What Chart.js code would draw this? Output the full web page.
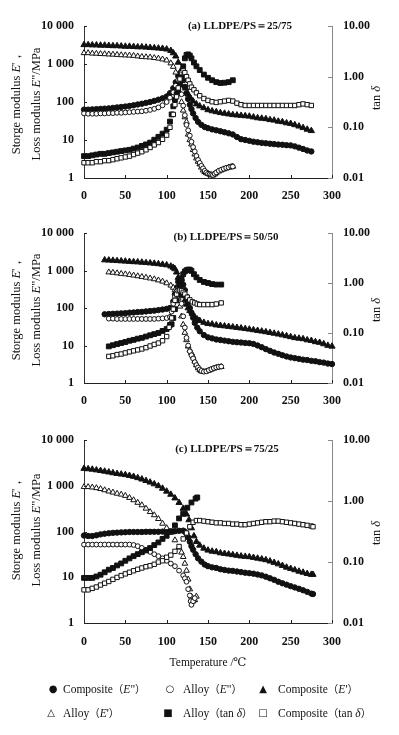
<!DOCTYPE html>
<html>
<head>
<meta charset="utf-8">
<script src="https://cdn.jsdelivr.net/npm/chart.js@4.4.0/dist/chart.umd.min.js"></script>
<style>
  body { margin: 0; background: #fff; width: 399px; height: 735px; position: relative; overflow: hidden;
         font-family: "Liberation Serif", "DejaVu Serif", serif; color: #111; }
  canvas { position: absolute; left: 0; }
  .yt { position: absolute; white-space: nowrap; font-size: 12.5px; transform: translate(-50%, -50%) rotate(-90deg); }
  .xt { position: absolute; white-space: nowrap; font-size: 11.5px; transform: translate(-50%, -50%); }
  .lg { position: absolute; white-space: nowrap; font-size: 11.5px; transform: translateY(-50%); }
  .mk { position: absolute; font-family: "DejaVu Sans", sans-serif; font-size: 10px; transform: translate(-50%, -50%); }
  .cj { font-family: "Noto Sans CJK SC", sans-serif; font-size: 10.5px; }
</style>
</head>
<body>
<canvas id="chartA" width="399" height="212" style="top:0"></canvas>
<canvas id="chartB" width="399" height="210" style="top:212px"></canvas>
<canvas id="chartC" width="399" height="240" style="top:422px"></canvas>

<div class="yt" style="left:16px;top:102px">Storge modulus <i>E</i>'，</div>
<div class="yt" style="left:36px;top:104px">Loss modulus <i>E</i>"/MPa</div>
<div class="yt" style="left:376px;top:98px">tan <i>δ</i></div>
<div class="yt" style="left:16px;top:308px">Storge modulus <i>E</i>'，</div>
<div class="yt" style="left:36px;top:310px">Loss modulus <i>E</i>"/MPa</div>
<div class="yt" style="left:376px;top:310px">tan <i>δ</i></div>
<div class="yt" style="left:16px;top:528px">Storge modulus <i>E</i>'，</div>
<div class="yt" style="left:36px;top:530px">Loss modulus <i>E</i>"/MPa</div>
<div class="yt" style="left:376px;top:533px">tan <i>δ</i></div>
<div class="xt" style="left:208px;top:662px">Temperature /℃</div>

<span class="mk" style="left:53px;top:688px">●</span><span class="lg" style="left:63px;top:688px">Composite<span class="cj">（</span><i>E</i>"<span class="cj">）</span></span>
<span class="mk" style="left:170px;top:688px">○</span><span class="lg" style="left:183px;top:688px">Alloy<span class="cj">（</span><i>E</i>"<span class="cj">）</span></span>
<span class="mk" style="left:263px;top:688px">▲</span><span class="lg" style="left:278px;top:688px">Composite<span class="cj">（</span><i>E</i>'<span class="cj">）</span></span>
<span class="mk" style="left:51px;top:712px">△</span><span class="lg" style="left:63px;top:712px">Alloy<span class="cj">（</span><i>E</i>'<span class="cj">）</span></span>
<span class="mk" style="left:168px;top:712px">■</span><span class="lg" style="left:183px;top:712px">Alloy<span class="cj">（</span>tan <i>δ</i><span class="cj">）</span></span>
<span class="mk" style="left:263px;top:712px">□</span><span class="lg" style="left:278px;top:712px">Composite<span class="cj">（</span>tan <i>δ</i><span class="cj">）</span></span>

<script>
// ---- tick labels ----
const tempTicks = [0, 50, 100, 150, 200, 250, 300];
const modTicks = [1, 10, 100, 1000, 10000];
const modLabels = ['1', '10', '100', '1 000', '10 000'];
const tanTicks = [0.01, 0.1, 1, 10];
const tanLabels = ['0.01', '0.10', '1.00', '10.00'];

// ---- (a) LLDPE/PS = 25/75 ----
const aCompE1T = [0,5,10,15,20,25,30,35,40,45,50,55,60,65,70,75,80,85,90,95,100,105,108,111,114,117,120,123,126,129,132,136,140,145,150,155,160,165,170,175,180,185,190,195,200,205,210,215,220,225,230,235,240,245,250,255,260,265,270,275];
const aCompE1 = [3200,3200,3150,3150,3100,3100,3050,3000,3000,2950,2900,2900,2850,2800,2800,2750,2700,2650,2600,2550,2450,2250,1950,1600,1100,650,380,230,160,125,105,88,78,70,62,58,55,52,50,48,46,45,44,43,42,40,38,37,36,34,33,31,30,28,27,25,23,21,19,17.5];
const aCompE2T = [0,5,10,15,20,25,30,35,40,45,50,55,60,65,70,75,80,85,90,95,100,104,108,111,114,116,118,120,122,124,126,128,130,132,135,138,142,146,150,155,160,165,170,175,180,185,190,195,200,205,210,215,220,225,230,235,240,245,250,255,260,265,270,275];
const aCompE2 = [63,63,64,65,66,67,68,70,72,74,76,79,82,86,90,95,100,107,115,125,140,170,230,330,480,560,500,380,250,170,120,85,65,50,38,30,25,22,20.5,19,18,17,16,15,14,12,10.5,10,9.5,9,8.7,8.4,8.2,8,7.8,7.6,7.5,7.3,7.2,6.8,6.3,5.8,5.3,5];
const aAllE1T = [0,5,10,15,20,25,30,35,40,45,50,55,60,65,70,75,80,85,90,95,100,105,108,111,114,116,118,120,122,124,126,128,130,132,134,136,138,140,142,144,146,148,150,152,154,156,158,160,163,166,169,172,175,178,180];
const aAllE1 = [1950,1950,1900,1880,1850,1830,1800,1780,1750,1720,1700,1680,1650,1600,1550,1520,1500,1450,1400,1330,1250,1050,850,600,300,170,100,60,40,30,14,10,7.7,5.5,4.2,3.3,2.7,2.3,1.9,1.6,1.45,1.35,1.3,1.25,1.2,1.18,1.25,1.35,1.5,1.6,1.7,1.8,1.9,1.95,2];
const aAllE2T = [0,5,10,15,20,25,30,35,40,45,50,55,60,65,70,75,80,85,90,95,100,104,108,111,114,116,118,120,122,124,126,128,130,132,134,136,138,140,142,144,146,148,150,152,154,156,158,160,163,166,169,172,175,178,180];
const aAllE2 = [50,49,49,49,50,50,51,51,52,52,53,54,55,56,57,59,62,66,72,82,100,130,180,270,380,300,160,80,45,25,18,13,9,6.5,5,3.8,3,2.5,2.1,1.8,1.55,1.4,1.3,1.25,1.22,1.2,1.3,1.4,1.55,1.65,1.75,1.85,1.9,2,2];
const aAllTanT = [0,5,10,15,20,25,30,35,40,45,50,55,60,65,70,75,80,85,90,95,100,104,106,108,110,112,114,116,118,120,122,124,126,128,130,133,136,140,145,150,155,160,165,170,175,180];
const aAllTan = [0.027,0.027,0.028,0.029,0.03,0.03,0.031,0.032,0.033,0.034,0.035,0.036,0.038,0.04,0.043,0.046,0.05,0.057,0.065,0.075,0.09,0.13,0.18,0.26,0.35,0.45,0.55,0.7,1.0,1.6,2.3,2.7,2.75,2.6,2.3,1.9,1.6,1.35,1.1,0.95,0.85,0.78,0.75,0.76,0.78,0.85];
const aCompTanT = [0,5,10,15,20,25,30,35,40,45,50,55,60,65,70,75,80,85,90,95,100,104,108,110,112,114,116,118,120,122,124,126,128,130,133,136,140,145,150,155,160,165,170,175,180,185,190,195,200,205,210,215,220,225,230,235,240,245,250,255,260,265,270,275];
const aCompTan = [0.02,0.02,0.02,0.021,0.021,0.022,0.022,0.023,0.024,0.025,0.026,0.027,0.029,0.031,0.033,0.036,0.04,0.045,0.05,0.058,0.07,0.1,0.18,0.28,0.4,0.6,0.9,1.2,1.3,1.2,1.0,0.85,0.72,0.62,0.55,0.48,0.42,0.37,0.34,0.32,0.31,0.32,0.33,0.34,0.33,0.3,0.28,0.27,0.27,0.27,0.27,0.27,0.27,0.27,0.27,0.27,0.27,0.27,0.27,0.27,0.28,0.29,0.28,0.27];

// ---- (b) LLDPE/PS = 50/50 ----
const bCompE1T = [25,30,35,40,45,50,55,60,65,70,75,80,85,90,95,100,105,108,110,112,114,116,118,120,122,124,126,128,131,134,137,140,145,150,155,160,165,170,175,180,185,190,195,200,205,210,215,220,225,230,235,240,245,250,255,260,265,270,275,280,285,290,295,300];
const bCompE1 = [1900,1880,1850,1820,1790,1760,1730,1700,1680,1650,1610,1580,1540,1500,1450,1400,1300,1200,1100,900,650,450,300,210,160,125,100,85,70,58,50,46,41,38,37,35,34,33,32,31,30,29,28,27,26,25,24,23,22,21,20,19,18,17,16,15.5,15,14,13.5,12.5,12,11,10,9.5];
const bCompE2T = [25,30,35,40,45,50,55,60,65,70,75,80,85,90,95,100,104,108,110,112,114,116,118,120,122,124,126,128,130,132,134,137,140,145,150,155,160,165,170,175,180,185,190,195,200,205,210,215,220,225,230,235,240,245,250,255,260,265,270,275,280,285,290,295,300];
const bCompE2 = [68,69,70,71,72,73,75,76,78,79,81,83,85,88,91,95,100,150,230,350,500,600,550,420,300,200,140,100,75,55,40,30,24,19,16.5,15.5,14.5,14,13.5,13,12.5,12.2,12,11.7,11.5,11,10,9,8,7.2,6.5,6,5.5,5.1,4.8,4.6,4.4,4.2,4.1,3.9,3.8,3.6,3.5,3.3,3.2];
const bAllE1T = [30,35,40,45,50,55,60,65,70,75,80,85,90,95,100,105,108,110,112,114,116,118,120,122,124,126,128,130,132,134,136,138,140,142,145,148,151,154,157,160,163,166];
const bAllE1 = [900,880,850,820,800,770,740,710,680,650,620,590,550,510,460,400,350,300,250,180,110,60,36,22,14,9.5,7.5,6.3,5,3.8,3,2.5,2.2,2.05,2,2.05,2.15,2.3,2.45,2.55,2.65,2.7];
const bAllE2T = [30,35,40,45,50,55,60,65,70,75,80,85,90,95,100,104,106,108,110,112,114,116,118,120,122,124,126,128,130,132,134,136,138,140,142,145,148,151,154,157,160,163,166];
const bAllE2 = [52,52,51,51,51,51,51,51,51,51,51,51,52,53,54,58,80,130,200,280,330,250,130,60,30,16,10,7,5.5,4.5,3.6,3,2.6,2.3,2.1,2,2.05,2.2,2.35,2.5,2.6,2.7,2.75];
const bAllTanT = [30,35,40,45,50,55,60,65,70,75,80,85,90,95,100,104,106,108,110,112,114,116,118,120,122,124,126,128,130,133,136,140,145,150,155,160,166];
const bAllTan = [0.054,0.057,0.06,0.063,0.066,0.07,0.073,0.077,0.08,0.085,0.09,0.095,0.1,0.11,0.12,0.145,0.15,0.2,0.3,0.45,0.6,0.85,1.2,1.5,1.7,1.8,1.85,1.85,1.75,1.5,1.3,1.15,1.05,1.0,0.95,0.93,0.93];
const bCompTanT = [30,35,40,45,50,55,60,65,70,75,80,85,90,95,100,103,106,108,110,112,114,116,118,120,122,125,128,131,134,137,140,145,150,155,160,166];
const bCompTan = [0.034,0.035,0.037,0.038,0.04,0.042,0.044,0.046,0.048,0.051,0.055,0.059,0.063,0.07,0.085,0.13,0.2,0.3,0.45,0.6,0.7,0.72,0.7,0.65,0.6,0.52,0.46,0.42,0.4,0.38,0.37,0.37,0.37,0.37,0.38,0.4];

// ---- (c) LLDPE/PS = 75/25 ----
const cCompE1T = [0,5,10,15,20,25,30,35,40,45,50,55,60,65,70,75,80,85,90,95,100,105,110,115,120,124,127,130,133,136,140,145,150,155,160,165,170,175,180,185,190,195,200,205,210,215,220,225,230,235,240,245,250,255,260,265,270,275,277];
const cCompE1 = [2400,2350,2300,2220,2150,2080,2000,1920,1850,1800,1750,1680,1600,1500,1400,1300,1200,1100,1000,880,760,650,540,430,320,240,180,120,80,60,50,43,39,37,36,34,33,32,31,30,29,28.5,28,27,26,25,24,22.5,21,19.5,18,16.5,15.5,14.5,13.5,12.8,12,11.5,11.5];
const cCompE2T = [0,5,10,15,20,25,30,35,40,45,50,55,60,65,70,75,80,85,90,95,100,105,110,115,120,122,124,126,128,130,132,135,138,142,146,150,155,160,165,170,175,180,185,190,195,200,205,210,215,220,225,230,235,240,245,250,255,260,265,270,275,277];
const cCompE2 = [82,80,80,83,87,90,92,94,95,96,97,98,98,98,98,99,99,99,99,100,100,100,102,104,105,100,90,75,60,48,40,32,26,22,19,17.5,16.5,16,15,14.5,14,13.8,13.4,13,12.6,12.3,12,11.5,11,10.3,9.5,8.8,8,7.4,6.9,6.4,6,5.6,5.2,4.8,4.4,4.3];
const cAllE1T = [0,5,10,15,20,25,30,35,40,45,50,55,60,65,70,75,80,85,90,95,100,105,110,115,118,120,122,124,126,128,130,132,134,136];
const cAllE1 = [950,950,930,900,860,810,760,720,680,650,610,550,490,430,380,320,270,230,190,150,120,95,65,45,35,28,20,14,9,5.5,3.8,3,3.2,3.8];
const cAllE2T = [0,5,10,15,20,25,30,35,40,45,50,55,60,65,70,75,80,85,90,95,100,105,110,115,120,122,124,126,128,129,130,132,134];
const cAllE2 = [52,52,52,52,52,52,52,52,52,52,52,52,51,48,44,40,36,32,29,26,23,20,17.5,14,11,9.5,8,5.5,4,3,2.5,3,3.5];
const cAllTanT = [0,5,10,15,20,25,30,35,40,45,50,55,60,65,70,75,80,85,90,95,100,105,110,115,120,125,130,135,137];
const cAllTan = [0.055,0.055,0.055,0.058,0.062,0.068,0.075,0.08,0.088,0.095,0.105,0.115,0.125,0.135,0.145,0.155,0.17,0.19,0.21,0.24,0.27,0.32,0.4,0.52,0.62,0.78,0.95,1.1,1.15];
const cCompTanT = [0,5,10,15,20,25,30,35,40,45,50,55,60,65,70,75,80,85,90,95,100,105,110,115,120,124,128,132,136,140,145,150,155,160,165,170,175,180,185,190,195,200,205,210,215,220,225,230,235,240,245,250,255,260,265,270,275,277];
const cCompTan = [0.035,0.035,0.037,0.039,0.042,0.045,0.048,0.052,0.056,0.06,0.064,0.068,0.072,0.076,0.08,0.084,0.087,0.092,0.1,0.105,0.12,0.13,0.15,0.18,0.24,0.3,0.38,0.45,0.48,0.48,0.47,0.46,0.45,0.44,0.44,0.43,0.43,0.42,0.42,0.41,0.41,0.42,0.43,0.44,0.45,0.46,0.46,0.47,0.47,0.46,0.45,0.44,0.43,0.42,0.41,0.4,0.39,0.38];

function pts(T, V) {
  return T.map((t, i) => ({ x: t, y: V[i] }));
}

// marker look per series, same in every panel
const styles = {
  compE2: { pointStyle: 'circle', pointRadius: 2.7, pointBackgroundColor: '#111', pointBorderColor: '#111', pointBorderWidth: 1, yAxisID: 'y' },
  allE2: { pointStyle: 'circle', pointRadius: 2.4, pointBackgroundColor: '#fff', pointBorderColor: '#111', pointBorderWidth: 1, yAxisID: 'y' },
  compE1: { pointStyle: 'triangle', pointRadius: 3.6, pointBackgroundColor: '#111', pointBorderColor: '#111', pointBorderWidth: 1, yAxisID: 'y' },
  allE1: { pointStyle: 'triangle', pointRadius: 3.3, pointBackgroundColor: '#fff', pointBorderColor: '#111', pointBorderWidth: 1, yAxisID: 'y' },
  allTan: { pointStyle: 'rect', pointRadius: 3.4, pointBackgroundColor: '#111', pointBorderColor: '#111', pointBorderWidth: 1, yAxisID: 'y2' },
  compTan: { pointStyle: 'rect', pointRadius: 3.1, pointBackgroundColor: '#fff', pointBorderColor: '#111', pointBorderWidth: 1, yAxisID: 'y2' },
};

function ds(key, T, V) {
  return Object.assign({ data: pts(T, V), showLine: false, clip: false }, styles[key]);
}

const frame = {
  id: 'frame',
  afterDatasetsDraw(chart, args, opts) {
    const { ctx, chartArea: a, scales: { x, y, y2 } } = chart;
    ctx.save();
    ctx.lineWidth = 1;
    ctx.strokeStyle = '#222';
    ctx.beginPath();
    x.ticks.forEach(t => {
      const px = Math.round(x.getPixelForValue(t.value)) + 0.5;
      ctx.moveTo(px, a.bottom); ctx.lineTo(px, a.bottom - 3);
    });
    y.ticks.forEach(t => {
      const py = Math.round(y.getPixelForValue(t.value)) + 0.5;
      ctx.moveTo(a.left, py); ctx.lineTo(a.left + 3, py);
    });
    ctx.stroke();
    ctx.strokeStyle = '#888';
    ctx.beginPath();
    y2.ticks.forEach(t => {
      const py = Math.round(y2.getPixelForValue(t.value)) + 0.5;
      ctx.moveTo(a.right, py); ctx.lineTo(a.right - 4, py);
    });
    ctx.stroke();
    ctx.font = 'bold 11px "Liberation Serif", serif';
    ctx.fillStyle = '#111';
    ctx.textAlign = 'center';
    ctx.textBaseline = 'middle';
    ctx.fillText(opts.text, opts.cx, opts.cy);
    ctx.restore();
  }
};

Chart.defaults.font.family = '"Liberation Serif", serif';
Chart.defaults.font.size = 12;
Chart.defaults.font.weight = 'bold';
Chart.defaults.color = '#111';

function makePanel(id, datasets, box, title) {
  const H = document.getElementById(id).height;
  return new Chart(document.getElementById(id), {
    type: 'scatter',
    data: { datasets },
    plugins: [frame],
    options: {
      responsive: false,
      animation: false,
      events: [],
      layout: { padding: { top: box.top, left: 0, right: 0, bottom: 0 } },
      plugins: { legend: { display: false }, tooltip: { enabled: false }, frame: title },
      scales: {
        x: {
          type: 'linear', min: 0, max: 300,
          afterBuildTicks: s => { s.ticks = tempTicks.map(v => ({ value: v })); },
          afterFit: s => { s.height = H - box.bottom; },
          ticks: { padding: box.xPad, maxRotation: 0 },
          grid: { display: false, drawTicks: false },
          border: { display: true, color: '#222', width: 1 }
        },
        y: {
          type: 'logarithmic', position: 'left', min: 1, max: 10000,
          afterBuildTicks: s => { s.ticks = modTicks.map(v => ({ value: v })); },
          afterFit: s => { s.width = 84; },
          ticks: { padding: 10, callback: v => modLabels[modTicks.indexOf(v)] },
          grid: { display: false, drawTicks: false },
          border: { display: true, color: '#333', width: 1 }
        },
        y2: {
          type: 'logarithmic', position: 'right', min: 0.01, max: 10,
          afterBuildTicks: s => { s.ticks = tanTicks.map(v => ({ value: v })); },
          afterFit: s => { s.width = 67; },
          ticks: { padding: 11, callback: v => tanLabels[tanTicks.findIndex(t => Math.abs(t - v) < 1e-9)] },
          grid: { display: false, drawTicks: false },
          border: { display: true, color: '#8a8a8a', width: 1 }
        }
      }
    }
  });
}

makePanel('chartA', [
  ds('compTan', aCompTanT, aCompTan),
  ds('allTan', aAllTanT, aAllTan),
  ds('allE2', aAllE2T, aAllE2),
  ds('allE1', aAllE1T, aAllE1),
  ds('compE2', aCompE2T, aCompE2),
  ds('compE1', aCompE1T, aCompE1)
], { top: 26, bottom: 178, xPad: 11 }, { text: '(a) LLDPE/PS＝25/75', cx: 240, cy: 26 });

makePanel('chartB', [
  ds('compTan', bCompTanT, bCompTan),
  ds('allTan', bAllTanT, bAllTan),
  ds('allE2', bAllE2T, bAllE2),
  ds('allE1', bAllE1T, bAllE1),
  ds('compE2', bCompE2T, bCompE2),
  ds('compE1', bCompE1T, bCompE1)
], { top: 21, bottom: 171, xPad: 11 }, { text: '(b) LLDPE/PS＝50/50', cx: 226, cy: 25 });

makePanel('chartC', [
  ds('compTan', cCompTanT, cCompTan),
  ds('allTan', cAllTanT, cAllTan),
  ds('allE2', cAllE2T, cAllE2),
  ds('allE1', cAllE1T, cAllE1),
  ds('compE2', cCompE2T, cCompE2),
  ds('compE1', cCompE1T, cCompE1)
], { top: 17, bottom: 201, xPad: 12 }, { text: '(c) LLDPE/PS＝75/25', cx: 227, cy: 27 });
</script>
</body>
</html>
